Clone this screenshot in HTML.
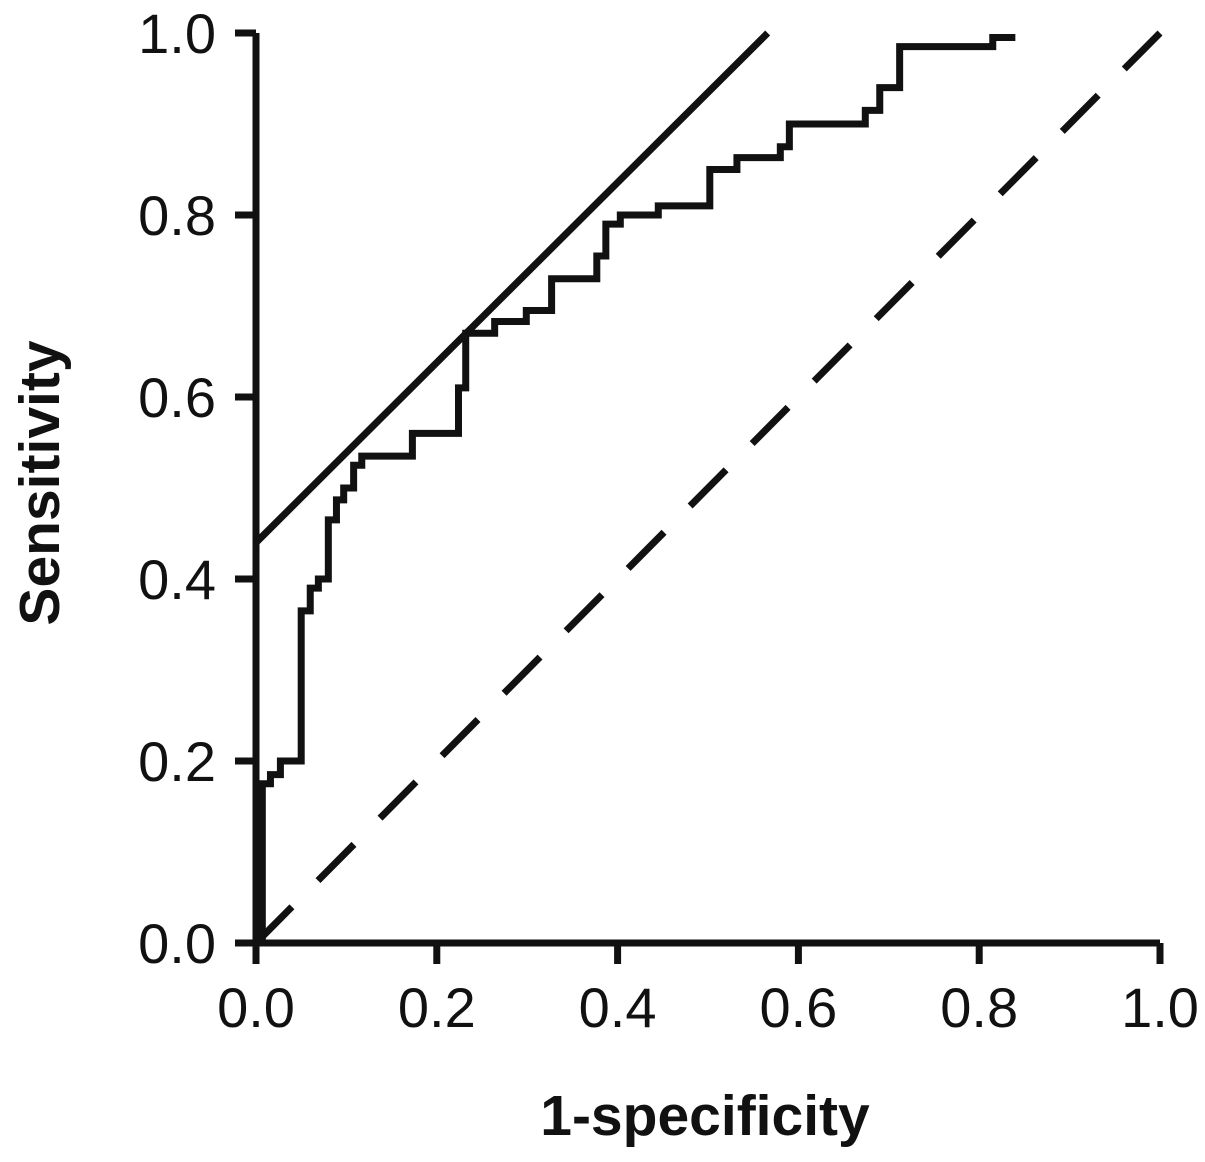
<!DOCTYPE html>
<html><head><meta charset="utf-8"><style>
html,body{margin:0;padding:0;background:#fff;}
svg{display:block;}
text{font-family:"Liberation Sans",Arial,sans-serif;fill:#111;}
</style></head><body>
<svg id="chart" width="1205" height="1162" viewBox="0 0 1205 1162" xmlns="http://www.w3.org/2000/svg">
<g id="axes"></g>
<g id="marks"></g>
<text x="705" y="1135" text-anchor="middle" font-size="57" font-weight="bold">1-specificity</text>
<text transform="translate(59,483) rotate(-90)" text-anchor="middle" font-size="57" font-weight="bold">Sensitivity</text>
</svg>
<script>
const xTicks=[0,0.2,0.4,0.6,0.8,1.0];
const yTicks=[0,0.2,0.4,0.6,0.8,1.0];
const tickLabels=["0.0","0.2","0.4","0.6","0.8","1.0"];
const rocFpr=[0.007,0.016,0.027,0.05,0.06,0.069,0.08,0.089,0.097,0.108,0.117,0.173,0.224,0.232,0.264,0.299,0.327,0.377,0.387,0.403,0.445,0.502,0.532,0.58,0.59,0.674,0.69,0.712,0.815,0.84];
const rocTpr=[0.175,0.185,0.2,0.365,0.39,0.4,0.465,0.487,0.5,0.525,0.535,0.56,0.61,0.67,0.683,0.695,0.73,0.755,0.79,0.8,0.81,0.85,0.863,0.875,0.9,0.915,0.94,0.985,0.995,0.995];
const tangentLine=[[0,0.44],[0.566,1.0]];
const refLine=[[0,0],[1,1]];
const NS="http://www.w3.org/2000/svg";
const X=v=>256+v*904, Y=v=>943-v*910;
const axes=document.getElementById('axes'), marks=document.getElementById('marks');
function mk(tag,attrs,parent){const e=document.createElementNS(NS,tag);for(const k in attrs)e.setAttribute(k,attrs[k]);parent.appendChild(e);return e;}
let e=mk('path',{d:`M${X(0)},${Y(1)} V${Y(0)} H${X(1)}`,stroke:'#111','stroke-width':7,fill:'none'},axes);


xTicks.forEach((t,i)=>{
 let l=mk('line',{x1:X(t),x2:X(t),y1:Y(0),y2:Y(0)+21,stroke:'#111','stroke-width':7},axes);
 
 
 let tx=mk('text',{x:X(t),y:1027,'text-anchor':'middle','font-size':56},axes);tx.textContent=tickLabels[i];
 
 
});
yTicks.forEach((t,i)=>{
 let l=mk('line',{x1:X(0)-21,x2:X(0),y1:Y(t),y2:Y(t),stroke:'#111','stroke-width':7},axes);
 
 
 let tx=mk('text',{x:216,y:Y(t)+20,'text-anchor':'end','font-size':56},axes);tx.textContent=tickLabels[i];
 
 
});
let r=mk('line',{x1:X(refLine[0][0]),y1:Y(refLine[0][1]),x2:X(refLine[1][0]),y2:Y(refLine[1][1]),stroke:'#111','stroke-width':7,'stroke-dasharray':'51 37'},marks);


let tg=mk('line',{x1:X(tangentLine[0][0]),y1:Y(tangentLine[0][1]),x2:X(tangentLine[1][0]),y2:Y(tangentLine[1][1]),stroke:'#111','stroke-width':7},marks);


let d=`M${X(0)},${Y(0)} H${X(rocFpr[0])}`;
rocFpr.forEach((f,i)=>{d+=` H${X(f)} V${Y(rocTpr[i])}`;});
let p=mk('path',{d:d,stroke:'#111','stroke-width':7,fill:'none','stroke-linejoin':'miter'},marks);


</script>
</body></html>
